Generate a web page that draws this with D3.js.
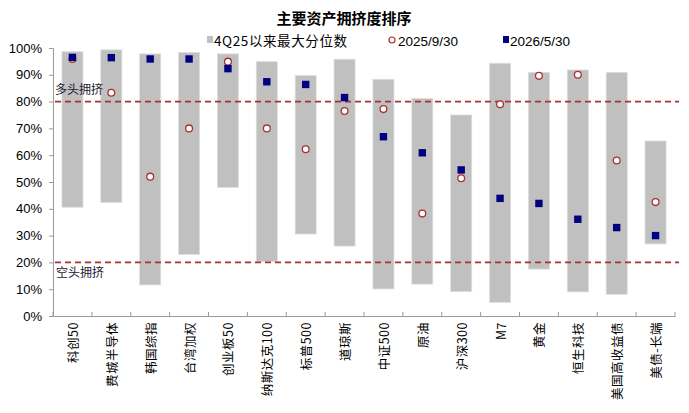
<!DOCTYPE html>
<html><head><meta charset="utf-8">
<script src="https://cdn.jsdelivr.net/npm/d3@7"></script>
<style>body{margin:0;background:#fff}svg{display:block}</style>
</head><body><svg id="c" width="689" height="413"></svg>
<script>
const categories = ["科创50","费城半导体","韩国综指","台湾加权","创业板50","纳斯达克100","标普500","道琼斯","中证500","原油","沪深300","M7","黄金","恒生科技","美国高收益债","美债-长端"];
const rangeMax = [0.986,0.993,0.978,0.983,0.978,0.949,0.897,0.958,0.883,0.812,0.750,0.943,0.909,0.918,0.909,0.653];
const rangeMin = [0.406,0.424,0.116,0.230,0.480,0.203,0.306,0.261,0.101,0.119,0.091,0.051,0.175,0.090,0.081,0.269];
const val20250930 = [0.959,0.833,0.520,0.700,0.949,0.700,0.622,0.765,0.772,0.382,0.514,0.790,0.896,0.900,0.580,0.425];
const val20260530 = [0.965,0.964,0.959,0.959,0.923,0.874,0.864,0.815,0.669,0.609,0.545,0.439,0.420,0.361,0.330,0.300];
const yTicks = [0,0.1,0.2,0.3,0.4,0.5,0.6,0.7,0.8,0.9,1.0];
const thresholds = [{v:0.8,label:"多头拥挤"},{v:0.2,label:"空头拥挤"}];
const legendLabels = ["4Q25以来最大分位数","2025/9/30","2026/5/30"];
const title = "主要资产拥挤度排序";

const svg = d3.select("#c");
const font = "'Liberation Sans', Arial, 'Noto Sans CJK SC', sans-serif";
const cjk = "'Noto Sans CJK SC', sans-serif";
const L=53, R=675, T=48, B=316;
const xb = d3.scaleBand().domain(categories).range([L,R]);
const y = d3.scaleLinear().domain([0,1]).range([B,T]);

svg.append("text").attr("x",344).attr("y",24).attr("text-anchor","middle")
  .attr("font-family",cjk).attr("font-weight","bold").attr("font-size",15).text(title);

// bars
svg.append("g").selectAll("rect").data(categories).join("rect")
  .attr("x",d=>xb(d)+xb.bandwidth()/2-10.5).attr("width",21)
  .attr("y",(d,i)=>y(rangeMax[i])).attr("height",(d,i)=>y(rangeMin[i])-y(rangeMax[i]))
  .attr("fill","#c0c0c0").attr("stroke","#dcdcdc").attr("stroke-width",0.8);

// axes
const ya = svg.append("g").attr("transform",`translate(${L},0)`)
  .call(d3.axisLeft(y).tickValues(yTicks).tickFormat(d3.format(".0%")).tickSize(4).tickPadding(7));
ya.select(".domain").attr("stroke","#999");
ya.selectAll(".tick line").attr("stroke","#999");
ya.selectAll("text").attr("font-family",font).attr("font-size",13).attr("fill","#000");

const xa = svg.append("g").attr("transform",`translate(0,${B})`)
  .call(d3.axisBottom(xb).tickSize(0).tickFormat(""));
xa.select(".domain").attr("stroke","#999");
xa.selectAll(".tick").remove();
svg.append("g").selectAll("line").data(d3.range(categories.length+1)).join("line")
  .attr("x1",i=>L+i*xb.step()).attr("x2",i=>L+i*xb.step()).attr("y1",B).attr("y2",B-4)
  .attr("stroke","#999");
svg.append("g").selectAll("text").data(categories).join("text")
  .attr("transform",d=>`translate(${xb(d)+xb.bandwidth()/2+5.5},${B+6}) rotate(-90)`)
  .attr("text-anchor","end").attr("font-family",cjk).attr("font-size",12.5).attr("letter-spacing",0.5).text(d=>d);

// thresholds
thresholds.forEach(t=>{
  svg.append("line").attr("x1",L+2).attr("x2",679).attr("y1",y(t.v)).attr("y2",y(t.v))
    .attr("stroke","#a83232").attr("stroke-width",1.6).attr("stroke-dasharray","6,4");
});
svg.append("text").attr("x",55).attr("y",y(0.8)-8).attr("font-family",cjk).attr("font-size",12).attr("fill","#1a1a2e").text(thresholds[0].label);
svg.append("text").attr("x",56).attr("y",y(0.2)+15).attr("font-family",cjk).attr("font-size",12).attr("fill","#1a1a2e").text(thresholds[1].label);

// points
svg.append("g").selectAll("circle").data(categories).join("circle")
  .attr("cx",d=>xb(d)+xb.bandwidth()/2).attr("cy",(d,i)=>y(val20250930[i])).attr("r",3.4)
  .attr("fill","#fff").attr("stroke","#a83232").attr("stroke-width",1.3);
svg.append("g").selectAll("rect").data(categories).join("rect")
  .attr("x",d=>xb(d)+xb.bandwidth()/2-3.7).attr("y",(d,i)=>y(val20260530[i])-3.7)
  .attr("width",7.4).attr("height",7.4).attr("fill","#000080");

// legend
const lg = svg.append("g").attr("font-family",cjk).attr("font-size",13.5);
lg.append("rect").attr("x",207).attr("y",36).attr("width",6).attr("height",7).attr("fill","#c0c0c0");
lg.append("text").attr("x",214).attr("y",45.5).attr("letter-spacing",0.6).text(legendLabels[0]);
lg.append("circle").attr("cx",392).attr("cy",40).attr("r",3).attr("fill","#fff").attr("stroke","#a83232").attr("stroke-width",1.2);
lg.append("text").attr("x",398).attr("y",45.5).attr("font-family",font).text(legendLabels[1]);
lg.append("rect").attr("x",503).attr("y",36).attr("width",6).attr("height",7).attr("fill","#000080");
lg.append("text").attr("x",510).attr("y",45.5).attr("font-family",font).text(legendLabels[2]);
</script></body></html>
